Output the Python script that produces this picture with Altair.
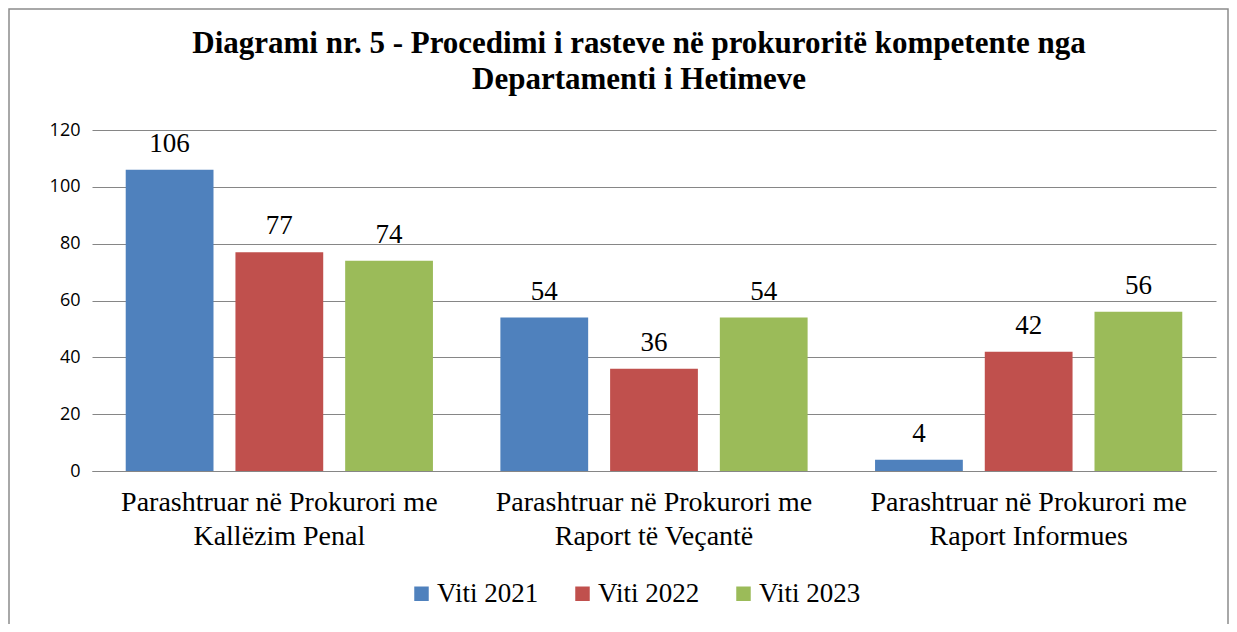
import altair as alt
import pandas as pd

categories = [
    "Parashtruar në Prokurori me Kallëzim Penal",
    "Parashtruar në Prokurori me Raport të Veçantë",
    "Parashtruar në Prokurori me Raport Informues",
]
series = ["Viti 2021", "Viti 2022", "Viti 2023"]
v2021 = [106, 54, 4]
v2022 = [77, 36, 42]
v2023 = [74, 54, 56]
colors = ["#4F81BD", "#C0504D", "#9BBB59"]
y_ticks = [0, 20, 40, 60, 80, 100, 120]

rows = []
for s, vals in zip(series, [v2021, v2022, v2023]):
    for c, v in zip(categories, vals):
        rows.append({"Kategoria": c, "Seria": s, "Vlera": v})
df = pd.DataFrame(rows)

SERIF = "Liberation Serif"
SANS = "Open Sans"

label_expr = ("[slice(datum.label, 0, indexof(datum.label, ' me ') + 3), "
              "slice(datum.label, indexof(datum.label, ' me ') + 4)]")

x_axis = alt.Axis(title=None, labelAngle=0, labelExpr=label_expr,
                  labelFont=SERIF, labelFontSize=28, labelColor="#000000",
                  labelLineHeight=34, labelPadding=17, labelBaseline="top",
                  labelLimit=0, ticks=False, domain=True, domainColor="#868686",
                  domainWidth=1)

base = alt.Chart(df).encode(
    x=alt.X("Kategoria:N", sort=categories,
            scale=alt.Scale(paddingInner=0.18, paddingOuter=0.09),
            axis=x_axis),
    xOffset=alt.XOffset("Seria:N", sort=series,
                        scale=alt.Scale(paddingInner=0.2, paddingOuter=0)),
)

bars = base.mark_bar().encode(
    y=alt.Y("Vlera:Q", scale=alt.Scale(domain=[0, 120], nice=False),
            axis=alt.Axis(title=None, values=y_ticks, labelFont=SANS,
                          labelFontSize=18, labelColor="#000000", labelPadding=12,
                          ticks=False, domain=False, grid=True,
                          gridColor="#868686", gridWidth=1)),
    color=alt.Color("Seria:N", sort=series,
                    scale=alt.Scale(domain=series, range=colors),
                    legend=alt.Legend(title=None, orient="none", direction="horizontal",
                                      legendX=316, legendY=450,
                                      symbolType="square", symbolSize=210,
                                      symbolStrokeWidth=0,
                                      labelFont=SERIF, labelFontSize=27,
                                      labelColor="#000000", columnPadding=30,
                                      labelOffset=2)),
)

labels = base.mark_text(dy=-18, baseline="alphabetic", font=SERIF, fontSize=27,
                        color="#000000").encode(
    y=alt.Y("Vlera:Q"),
    text=alt.Text("Vlera:Q"),
)

border = alt.Chart(pd.DataFrame({"a": [0]})).mark_rect(
    fill=None, stroke="#8C8C8C", strokeWidth=1.5, clip=False
).encode(
    x=alt.value(-83), x2=alt.value(1136), y=alt.value(-121), y2=alt.value(520)
)

chart = alt.layer(bars, labels, border).properties(
    width=1124,
    height=341,
    autosize=alt.AutoSizeParams(type="none"),
    padding={"left": 84, "top": 122, "right": 13, "bottom": 153},
    title=alt.TitleParams(
        text=["Diagrami nr. 5 - Procedimi i rasteve në prokuroritë kompetente nga",
              "Departamenti i Hetimeve"],
        font=SERIF, fontSize=31, fontWeight="bold", color="#000000",
        anchor="middle", frame="group", offset=-88, lineHeight=36, dx=-15,
    ),
).configure_view(stroke=None).configure_axisX(labelFont=SERIF)

chart.save("out.html", embed_options={"renderer": "svg", "actions": False})
